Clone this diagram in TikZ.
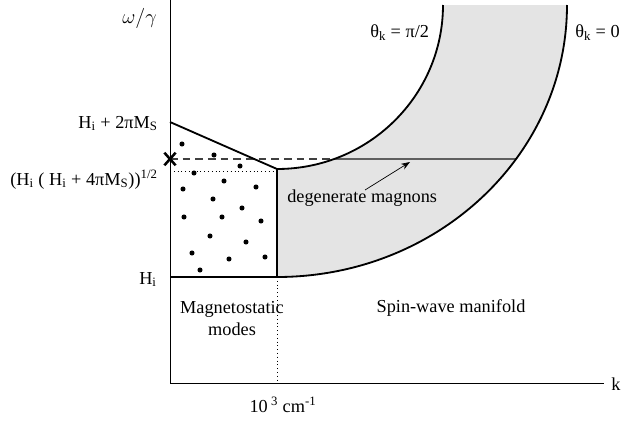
\documentclass[tikz,border=0pt]{standalone}
\usepackage{fontspec}
\setmainfont{Liberation Serif}
\usetikzlibrary{arrows.meta}
\definecolor{stipple}{RGB}{228,228,228}
\definecolor{midgray}{RGB}{95,95,95}
\tikzset{
  axis/.style={draw=black,line width=0.7pt},
  branch/.style={draw=black,line width=1.3pt},
  guide/.style={draw=black,line width=0.7pt,dotted},
  level/.style={draw=black!75,line width=1pt,dash pattern=on 5.5pt off 3.5pt},
  lbl/.style={font=\fontsize{13}{15.6}\selectfont,inner sep=0pt},
  arr/.style={-{Stealth[length=2.2mm,width=1.6mm]},draw=black,line width=0.5pt}
}
\newcommand{\sbs}[1]{\textsubscript{#1}}

\begin{document}
\begin{tikzpicture}[x=0.025cm,y=-0.025cm]
  \useasboundingbox (0,0) rectangle (639,422);
  % key points
  \coordinate (O) at (170,383);
  \coordinate (ytop) at (170,0);
  \coordinate (xend) at (604,383);
  \coordinate (Hi) at (170,277);
  \coordinate (kc) at (277,277);
  \coordinate (kctop) at (277,169);
  \coordinate (kcbot) at (277,383);
  \coordinate (Hs) at (170,122);
  \coordinate (Hm) at (170,171);
  \coordinate (Hm2) at (277,171);
  \coordinate (X) at (170,159);
  \coordinate (inner) at (334,159);
  \coordinate (outer) at (516,159);
  \coordinate (atail) at (365,190);
  \coordinate (ahead) at (410,162);
  % spin-wave band
  \fill[stipple] (kctop) arc[start angle=90,end angle=0,x radius=166,y radius=164]
    -- (567,5) arc[start angle=0,end angle=90,x radius=290,y radius=272] -- cycle;
  \draw[axis] (ytop) -- (O) -- (xend);
  \draw[guide] (kc) -- (kcbot);
  \draw[guide] (Hm) -- (Hm2);
  \draw[level] (X) -- (inner);
  \draw[draw=midgray,line width=0.8pt] (inner) -- (outer);
  \draw[branch] (Hs) -- (kctop) -- (kc);
  \draw[axis,line width=1pt] (Hi) -- (kc);
  \draw[branch] (kctop) arc[start angle=90,end angle=0,x radius=166,y radius=164];
  \draw[branch] (kc) arc[start angle=90,end angle=0,x radius=290,y radius=272];
  \draw[line width=1.8pt] ([xshift=-4pt,yshift=-4.5pt]X) -- ([xshift=4pt,yshift=4.5pt]X)
    ([xshift=-4pt,yshift=4.5pt]X) -- ([xshift=4pt,yshift=-4.5pt]X);
  % magnetostatic modes
  \foreach \x/\y in {182/144,214/155,240/166,194/173,224/181,183/189,256/187,213/199,
    242/208,184/217,222/217,261/221,210/236,246/242,192/253,229/259,265/257,200/270}
    \fill (\x,\y) circle[radius=1.8pt];
  \draw[arr] (atail) -- (ahead);
  % labels
  \node[lbl,anchor=base east] (wg) at (157,23) {\fontsize{14}{16}\selectfont$\omega/\gamma$};
  \node[lbl,anchor=base east] (hs) at (158,128) {H\sbs{i} + 2πM\sbs{S}};
  \node[lbl,anchor=base east] (hm) at (158,185) {(H\sbs{i} ( H\sbs{i} + 4πM\sbs{S}))\textsuperscript{1/2}};
  \node[lbl,anchor=base east] (hi) at (157,284) {H\sbs{i}};
  \node[lbl,anchor=base west] (tpi) at (370,37) {θ\sbs{k} = π/2};
  \node[lbl,anchor=base west] (tzero) at (575,37) {θ\sbs{k} = 0};
  \node[lbl,anchor=base west] (deg) at (287,202) {degenerate magnons};
  \node[lbl,align=center] (ms) at (232,319) {Magnetostatic\\modes};
  \node[lbl,anchor=base] (sw) at (451,312) {Spin-wave manifold};
  \node[lbl,anchor=base] (kk) at (283,412) {10\textsuperscript{ 3} cm\textsuperscript{-1}};
  \node[lbl,anchor=base west] (k) at (611,390) {k};
\end{tikzpicture}
\end{document}
